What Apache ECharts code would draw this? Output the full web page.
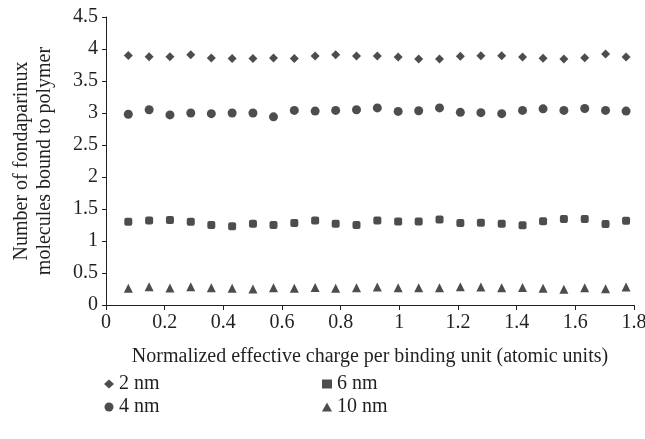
<!DOCTYPE html>
<html>
<head>
<meta charset="utf-8">
<script src="https://cdn.jsdelivr.net/npm/echarts@6/dist/echarts.min.js"></script>
<style>
  html, body { margin: 0; padding: 0; background: #fff; }
  #chart { width: 645px; height: 439px; }
</style>
</head>
<body>
<div id="chart"></div>
<script>
// effective charge per binding unit (x) shared by all series
const charges = [0.076, 0.147, 0.218, 0.289, 0.359, 0.430, 0.501, 0.571, 0.642, 0.713, 0.783, 0.854, 0.925,
  0.996, 1.066, 1.137, 1.208, 1.278, 1.349, 1.420, 1.490, 1.561, 1.632, 1.703, 1.773];

const nm2 = [3.90, 3.88, 3.88, 3.91, 3.86, 3.85, 3.85, 3.86, 3.85, 3.89, 3.91, 3.89, 3.89,
  3.875, 3.845, 3.845, 3.885, 3.895, 3.895, 3.875, 3.855, 3.845, 3.865, 3.92, 3.875];
const nm4 = [2.98, 3.05, 2.97, 3.00, 2.99, 3.00, 3.00, 2.94, 3.04, 3.03, 3.04, 3.05, 3.08,
  3.025, 3.035, 3.08, 3.01, 3.005, 2.99, 3.04, 3.065, 3.04, 3.07, 3.04, 3.03];
const nm6 = [1.30, 1.32, 1.33, 1.30, 1.25, 1.23, 1.27, 1.25, 1.28, 1.32, 1.27, 1.25, 1.32,
  1.305, 1.305, 1.335, 1.28, 1.285, 1.27, 1.245, 1.31, 1.345, 1.345, 1.265, 1.315];
const nm10 = [0.26, 0.285, 0.265, 0.285, 0.27, 0.26, 0.25, 0.27, 0.26, 0.275, 0.26, 0.27, 0.28,
  0.27, 0.27, 0.27, 0.285, 0.28, 0.27, 0.275, 0.26, 0.245, 0.27, 0.255, 0.28];

const names = ['2 nm', '4 nm', '6 nm', '10 nm'];
const xTicks = ['0', '0.2', '0.4', '0.6', '0.8', '1', '1.2', '1.4', '1.6', '1.8'];

const ink = '#231f20';
const font = 'Liberation Serif';
const fs = 20;

function pairs(ys) {
  return charges.map((x, i) => [x, ys[i]]);
}

function scatter(name, data, symbol, size) {
  return {
    name: name,
    type: 'scatter',
    data: pairs(data),
    symbol: symbol,
    symbolSize: size,
    itemStyle: { color: ink },
    emphasis: { disabled: true },
  };
}

const chart = echarts.init(document.getElementById('chart'));

const legendText = { fontFamily: font, fontSize: fs, color: ink };

chart.setOption({
  animation: false,
  textStyle: { fontFamily: font },
  grid: { left: 106, right: 11, top: 17, bottom: 134, containLabel: false, outerBoundsMode: 'none' },
  legend: [
    {
      orient: 'vertical', left: 99, top: 369, itemGap: 3, itemWidth: 10, itemHeight: 9,
      textStyle: legendText,
      data: [{ name: names[0], icon: 'diamond' }, { name: names[1], icon: 'circle' }],
    },
    {
      orient: 'vertical', left: 317, top: 369, itemGap: 3, itemWidth: 10, itemHeight: 9,
      textStyle: legendText,
      data: [{ name: names[2], icon: 'rect' }, { name: names[3], icon: 'triangle' }],
    },
  ],
  xAxis: {
    type: 'value', min: 0, max: 1.8, interval: 0.2,
    name: 'Normalized effective charge per binding unit (atomic units)',
    nameLocation: 'middle', nameGap: 42,
    nameTextStyle: { fontFamily: font, fontSize: fs, color: ink },
    axisLine: { lineStyle: { color: ink, width: 1 } },
    axisTick: { show: true, length: 5, lineStyle: { color: ink } },
    axisLabel: {
      fontFamily: font, fontSize: fs, color: ink, margin: 8,
      formatter: (v) => xTicks[Math.round(v / 0.2)],
    },
    splitLine: { show: false },
  },
  yAxis: {
    type: 'value', min: 0, max: 4.5, interval: 0.5,
    name: 'Number of fondaparinux\nmolecules bound to polymer',
    nameLocation: 'middle', nameGap: 50, nameRotate: 90,
    nameTextStyle: { fontFamily: font, fontSize: fs, color: ink, lineHeight: 23 },
    axisLine: { show: true, lineStyle: { color: ink, width: 1 } },
    axisTick: { show: true, length: 4, lineStyle: { color: ink } },
    axisLabel: { fontFamily: font, fontSize: fs, color: ink, margin: 8 },
    splitLine: { show: false },
  },
  series: [
    scatter(names[0], nm2, 'diamond', 9),
    scatter(names[1], nm4, 'circle', 9),
    scatter(names[2], nm6, 'roundRect', 8),
    scatter(names[3], nm10, 'triangle', 9),
  ],
});
</script>
</body>
</html>
